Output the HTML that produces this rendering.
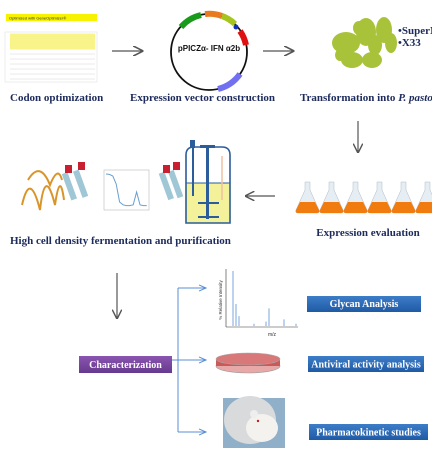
<!DOCTYPE html>
<html><head><meta charset="utf-8"><style>
html,body{margin:0;padding:0;background:#fff;width:432px;height:460px;overflow:hidden}
svg{display:block}
.lbl{font-family:"Liberation Serif",serif;font-weight:bold;fill:#1c2a5c;font-size:11px}
.box{font-family:"Liberation Serif",serif;font-weight:bold;fill:#fff;font-size:10px}
</style></head><body>
<svg id="fig" width="432" height="460" viewBox="0 0 432 460">
<defs>
<marker id="ah" markerWidth="8" markerHeight="8" refX="7" refY="4" orient="auto"><path d="M0,0 L8,4 L0,8" fill="none" stroke="#555" stroke-width="1.2"/></marker>
<marker id="ahb" markerWidth="8" markerHeight="8" refX="7" refY="4" orient="auto"><path d="M0,1 L7,4 L0,7" fill="none" stroke="#5b8fd6" stroke-width="1"/></marker>
<linearGradient id="bg" x1="0" y1="0" x2="0" y2="1"><stop offset="0" stop-color="#3d7dc8"/><stop offset="1" stop-color="#1f5aa5"/></linearGradient>
<linearGradient id="pg" x1="0" y1="0" x2="0" y2="1"><stop offset="0" stop-color="#8a55b0"/><stop offset="1" stop-color="#673a8e"/></linearGradient>
</defs>

<!-- codon optimization -->
<g>
<rect x="6" y="14" width="91" height="7" fill="#f7f200"/>
<text x="9" y="19.5" font-family="Liberation Sans,sans-serif" font-size="4" fill="#333">Optimized with GeneOptimizer®</text>
<rect x="5" y="32" width="92" height="50" fill="#fff" stroke="#ddd" stroke-width="0.5"/>
<g id="codon-grid"></g>
<rect x="10" y="34" width="85" height="15" fill="#f8f48a"/>
</g>
<line x1="112" y1="51" x2="142" y2="51" stroke="#555" stroke-width="1.3" marker-end="url(#ah)"/>

<g>
<circle cx="209" cy="52" r="38" fill="none" stroke="#111" stroke-width="1.8"/>
<path d="M181,27 A38,38 0 0 1 201,15" stroke="#1a9a1a" stroke-width="6" fill="none"/>
<path d="M205,14 A38,38 0 0 1 222,16" stroke="#e87b1e" stroke-width="6" fill="none"/>
<path d="M222,16 A38,38 0 0 1 235,24" stroke="#a5c41e" stroke-width="6" fill="none"/>
<circle cx="236" cy="27" r="2.5" fill="#1030c0"/>
<path d="M240,31 A38,38 0 0 1 246,45" stroke="#e01010" stroke-width="6" fill="none"/>
<path d="M240,74 A38,38 0 0 1 218,89" stroke="#7070f0" stroke-width="6" fill="none"/>
<text x="209" y="51" text-anchor="middle" font-family="Liberation Sans,sans-serif" font-weight="bold" font-size="8" fill="#111">pPICZα- IFN α2b</text>
</g>
<line x1="263" y1="51" x2="293" y2="51" stroke="#555" stroke-width="1.3" marker-end="url(#ah)"/>

<g fill="#a8c23a">
<ellipse cx="346" cy="43" rx="14" ry="11"/><ellipse cx="366" cy="32" rx="10" ry="14"/><ellipse cx="384" cy="30" rx="8" ry="13"/>
<ellipse cx="359" cy="28" rx="6" ry="7"/><ellipse cx="352" cy="60" rx="11" ry="8"/><ellipse cx="372" cy="60" rx="10" ry="8"/>
<ellipse cx="375" cy="45" rx="7" ry="10"/><ellipse cx="391" cy="43" rx="6" ry="10"/><ellipse cx="340" cy="55" rx="5" ry="6"/>
</g>
<text x="398" y="34" class="lbl" font-size="10">•SuperMan</text>
<text x="398" y="46" class="lbl" font-size="10">•X33</text>

<text x="10" y="101" class="lbl">Codon optimization</text>
<text x="130" y="101" class="lbl">Expression vector construction</text>
<text x="300" y="101" class="lbl">Transformation into <tspan font-style="italic">P. pastoris</tspan></text>

<line x1="358" y1="121" x2="358" y2="152" stroke="#555" stroke-width="1.2" marker-end="url(#ah)"/>

<g id="flasks"></g>
<text x="368" y="236" text-anchor="middle" class="lbl" font-size="10">Expression evaluation</text>
<line x1="275" y1="196" x2="246" y2="196" stroke="#555" stroke-width="1.2" marker-end="url(#ah)"/>

<g>
<rect x="186" y="183" width="44" height="40" rx="4" fill="#f3f19a"/>
<path d="M186,223 V155 Q186,147 194,147 H222 Q230,147 230,155 V223 Z" fill="none" stroke="#2a5d9a" stroke-width="1.6"/>
<line x1="186" y1="183" x2="230" y2="183" stroke="#2a5d9a" stroke-width="1"/>
<rect x="206" y="145" width="3" height="74" fill="#2a5d9a"/><rect x="200" y="145" width="15" height="3" fill="#2a5d9a"/>
<rect x="192" y="148" width="2" height="48" fill="#2a5d9a"/><rect x="190" y="140" width="5" height="8" fill="#2a5d9a"/>
<line x1="222" y1="156" x2="222" y2="200" stroke="#f0c0a0" stroke-width="1.5"/>
<line x1="198" y1="203" x2="219" y2="203" stroke="#2a5d9a" stroke-width="2"/>
<line x1="198" y1="217" x2="219" y2="217" stroke="#2a5d9a" stroke-width="2"/>
</g>
<g stroke="#d9952a" stroke-width="2" fill="none">
<path d="M22,205 Q30,170 40,210 Q45,165 55,205 Q60,170 64,200"/><path d="M28,180 Q40,160 50,185 Q58,165 62,180"/>
</g>
<g>
<rect x="66" y="172" width="6" height="28" fill="#9fc7d6" transform="rotate(-20 70 185)"/>
<rect x="78" y="170" width="6" height="28" fill="#9fc7d6" transform="rotate(-20 80 185)"/>
<rect x="65" y="165" width="7" height="8" fill="#c82030"/><rect x="78" y="162" width="7" height="8" fill="#c82030"/>
<rect x="163" y="172" width="6" height="28" fill="#9fc7d6" transform="rotate(-20 166 185)"/>
<rect x="173" y="170" width="6" height="28" fill="#9fc7d6" transform="rotate(-20 176 185)"/>
<rect x="163" y="165" width="7" height="8" fill="#c82030"/><rect x="173" y="162" width="7" height="8" fill="#c82030"/>
</g>
<g>
<rect x="104" y="170" width="45" height="40" fill="#fff" stroke="#bbb" stroke-width="0.6"/>
<polyline id="chrom" fill="none" stroke="#6aa0d0" stroke-width="1"/>
</g>
<text x="10" y="244" class="lbl" font-size="10.5">High cell density fermentation and purification</text>

<line x1="117" y1="273" x2="117" y2="318" stroke="#555" stroke-width="1.2" marker-end="url(#ah)"/>

<rect x="79" y="356" width="93" height="17" fill="url(#pg)"/>
<text x="125.5" y="368" text-anchor="middle" class="box" font-size="10">Characterization</text>

<g stroke="#5b8fd6" stroke-width="1" fill="none">
<line x1="172" y1="360" x2="178" y2="360"/>
<line x1="178" y1="288" x2="178" y2="432"/>
<line x1="178" y1="288" x2="206" y2="288" marker-end="url(#ahb)"/>
<line x1="178" y1="360" x2="206" y2="360" marker-end="url(#ahb)"/>
<line x1="178" y1="432" x2="206" y2="432" marker-end="url(#ahb)"/>
</g>

<g>
<line x1="226" y1="269" x2="226" y2="327" stroke="#333" stroke-width="0.6"/>
<line x1="226" y1="327" x2="298" y2="327" stroke="#333" stroke-width="0.6"/>
<g id="ms-peaks"></g>
<text x="222" y="300" transform="rotate(-90 222 300)" text-anchor="middle" font-family="Liberation Sans,sans-serif" font-size="4.5" fill="#333">% Relative Intensity</text>
<text x="268" y="336" font-family="Liberation Sans,sans-serif" font-size="5" fill="#333">m/z</text>
</g>

<g>
<ellipse cx="248" cy="366" rx="32" ry="7" fill="#e8a8a8" stroke="#999" stroke-width="0.6"/>
<rect x="216" y="359" width="64" height="7" fill="#c85a5a"/>
<ellipse cx="248" cy="359" rx="32" ry="6" fill="#d87878" stroke="#aaa" stroke-width="0.6"/>
</g>

<g>
<rect x="223" y="398" width="62" height="50" fill="#8fb0c8"/>
<ellipse cx="250" cy="420" rx="26" ry="24" fill="#d8dadc"/>
<ellipse cx="262" cy="428" rx="16" ry="14" fill="#f4f2ee"/>
<circle cx="254" cy="414" r="4" fill="#eee"/><circle cx="258" cy="421" r="1.2" fill="#c02020"/>
</g>

<rect x="307" y="296" width="114" height="16" fill="url(#bg)"/>
<text x="364" y="307" text-anchor="middle" class="box">Glycan Analysis</text>
<rect x="308" y="356" width="116" height="16" fill="url(#bg)"/>
<text x="366" y="367.5" text-anchor="middle" class="box">Antiviral activity analysis</text>
<rect x="309" y="424" width="119" height="16" fill="url(#bg)"/>
<text x="368.5" y="435.5" text-anchor="middle" class="box">Pharmacokinetic studies</text>
</svg>
<script>
const msMz=[1,2,3,8,12,13,18,22];
const msIntensity=[100,40,18,4,8,32,12,4];
const chromTime=[0,2,4,6,8,10,12,14,16,18,20,22,24];
const chromSignal=[85,84,80,60,15,8,6,6,8,40,8,6,6];
const flaskCount=[1,2,3,4,5,6];
const NS="http://www.w3.org/2000/svg";
function mk(t,a,p){const e=document.createElementNS(NS,t);for(const k in a)e.setAttribute(k,a[k]);p.appendChild(e);return e;}
// grid lines codon chart
const cg=document.getElementById('codon-grid');
for(let i=0;i<10;i++){mk('line',{x1:10,x2:95,y1:34+i*5,y2:34+i*5,stroke:'#ccc','stroke-width':0.4},cg);}
// ms peaks
const mx=v=>230+v*3, my=v=>326-v*0.55;
const mp=document.getElementById('ms-peaks');
msMz.forEach((m,i)=>{const l=mk('line',{x1:mx(m),x2:mx(m),y1:326,y2:my(msIntensity[i]),stroke:'#7aa6dc','stroke-width':1},mp);

});
// chromatogram
const cx=v=>106+v*1.7, cy=v=>208-v*0.4;
document.getElementById('chrom').setAttribute('points',chromTime.map((t,i)=>cx(t)+','+cy(chromSignal[i])).join(' '));
// flasks
const fg=document.getElementById('flasks');
flaskCount.forEach((n,i)=>{const x=296+i*24;
const g=mk('g',{},fg);


mk('path',{d:`M${x+9},182 h5 v8 l9,20 q1,3 -2,3 h-19 q-3,0 -2,-3 l9,-20 z`,fill:'#e6eef4',stroke:'#aabbc8','stroke-width':0.5},g);
mk('path',{d:`M${x+4},202 h15 l4,8 q1,3 -2,3 h-19 q-3,0 -2,-3 z`,fill:'#f07c10'},g);});
</script>
</body></html>
